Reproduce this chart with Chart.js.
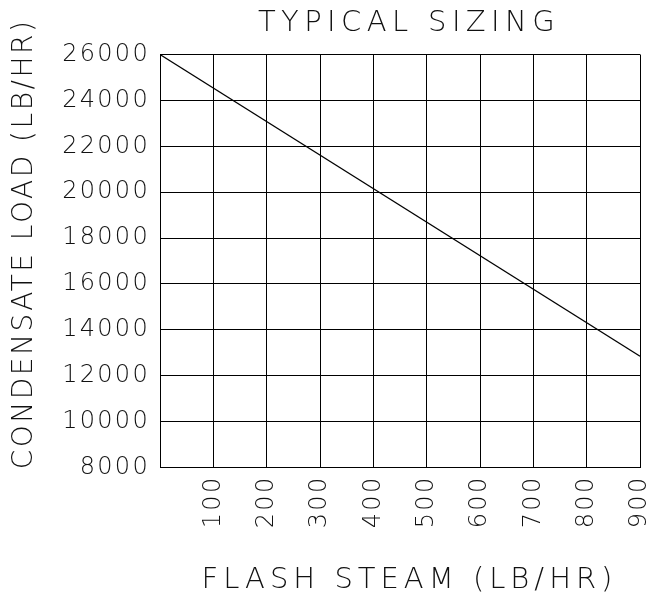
<!DOCTYPE html>
<html>
<head>
<meta charset="utf-8">
<script src="https://cdn.jsdelivr.net/npm/chart.js@4/dist/chart.umd.min.js"></script>
<style>
  body { margin: 0; background: #fff; }
</style>
</head>
<body>
<canvas id="sizingChart" width="652" height="600"></canvas>
<script>
// values
const flashSteam = [0, 900];
const condensateLoad = [26000, 12850];
const xTickValues = [0, 100, 200, 300, 400, 500, 600, 700, 800, 900];
const yTickValues = [8000, 10000, 12000, 14000, 16000, 18000, 20000, 22000, 24000, 26000];

const fontFamily = "'DejaVu Sans', sans-serif";
const textColor = '#111';

// canvas letter spacing, the reference uses a wide CAD style font
function spaced(obj, name, px, dx, dy) {
    const orig = obj[name];
    obj[name] = function () {
        const ctx = this.ctx;
        ctx.save();
        ctx.letterSpacing = px + 'px';
        ctx.translate(dx, dy);
        orig.apply(this, arguments);
        ctx.restore();
    };
}

const spacingPlugin = {
    id: 'spacing',
    beforeDraw(chart) {
        if (!chart._spaced) {
            spaced(chart.titleBlock, 'draw', 5.4, 9, 0);
            spaced(chart.scales.x, 'drawTitle', 5, 9.5, 0);
            spaced(chart.scales.y, 'drawTitle', 2.5, 0, -17);
            chart._spaced = true;
        }
        chart.ctx.letterSpacing = '2.3px';
    },
    afterDraw(chart) {
        chart.ctx.letterSpacing = '0px';
    }
};

const ctx = document.getElementById('sizingChart').getContext('2d');

const chart = new Chart(ctx, {
    type: 'line',
    data: {
        datasets: [{
            data: flashSteam.map((x, i) => ({ x: x, y: condensateLoad[i] })),
            borderColor: '#000',
            borderWidth: 1.2,
            pointRadius: 0,
            tension: 0,
            fill: false
        }]
    },
    options: {
        responsive: false,
        animation: false,
        layout: {
            padding: { left: 0, right: 12, top: 0, bottom: 0 }
        },
        plugins: {
            legend: { display: false },
            tooltip: { enabled: false },
            title: {
                display: true,
                text: 'TYPICAL SIZING',
                fullSize: false,
                color: textColor,
                font: { family: fontFamily, size: 29, weight: 200, lineHeight: 1.2 },
                padding: { top: 6, bottom: 13.7 }
            }
        },
        scales: {
            x: {
                type: 'linear',
                min: 0,
                max: 900,
                afterBuildTicks: function (scale) {
                    scale.ticks = xTickValues.map(v => ({ value: v }));
                },
                afterFit: function (scale) {
                    scale.height = 132.5;
                    scale.paddingLeft = 0;
                    scale.paddingRight = 0;
                },
                grid: { color: '#000', lineWidth: 1, drawTicks: false },
                border: { color: '#000', width: 1 },
                ticks: {
                    autoSkip: false,
                    minRotation: 90,
                    maxRotation: 90,
                    padding: 8,
                    color: textColor,
                    font: { family: fontFamily, size: 24, weight: 200 },
                    callback: function (value) {
                        return value === 0 ? '' : String(value);
                    }
                },
                title: {
                    display: true,
                    text: 'FLASH STEAM (LB/HR)',
                    color: textColor,
                    font: { family: fontFamily, size: 29, weight: 200, lineHeight: 1.2 },
                    padding: { top: 0, bottom: 2 }
                }
            },
            y: {
                type: 'linear',
                min: 8000,
                max: 26000,
                afterBuildTicks: function (scale) {
                    scale.ticks = yTickValues.map(v => ({ value: v }));
                },
                afterFit: function (scale) {
                    scale.width = 160;
                    scale.paddingTop = 0;
                    scale.paddingBottom = 0;
                },
                grid: { color: '#000', lineWidth: 1, drawTicks: false },
                border: { color: '#000', width: 1 },
                ticks: {
                    autoSkip: false,
                    padding: 10,
                    color: textColor,
                    font: { family: fontFamily, size: 24, weight: 200 },
                    callback: function (value) {
                        return String(value);
                    }
                },
                title: {
                    display: true,
                    text: 'CONDENSATE LOAD (LB/HR)',
                    color: textColor,
                    font: { family: fontFamily, size: 28, weight: 200, lineHeight: 1.2 },
                    padding: { top: 8, bottom: 0 }
                }
            }
        }
    },
    plugins: [spacingPlugin]
});
</script>
</body>
</html>
